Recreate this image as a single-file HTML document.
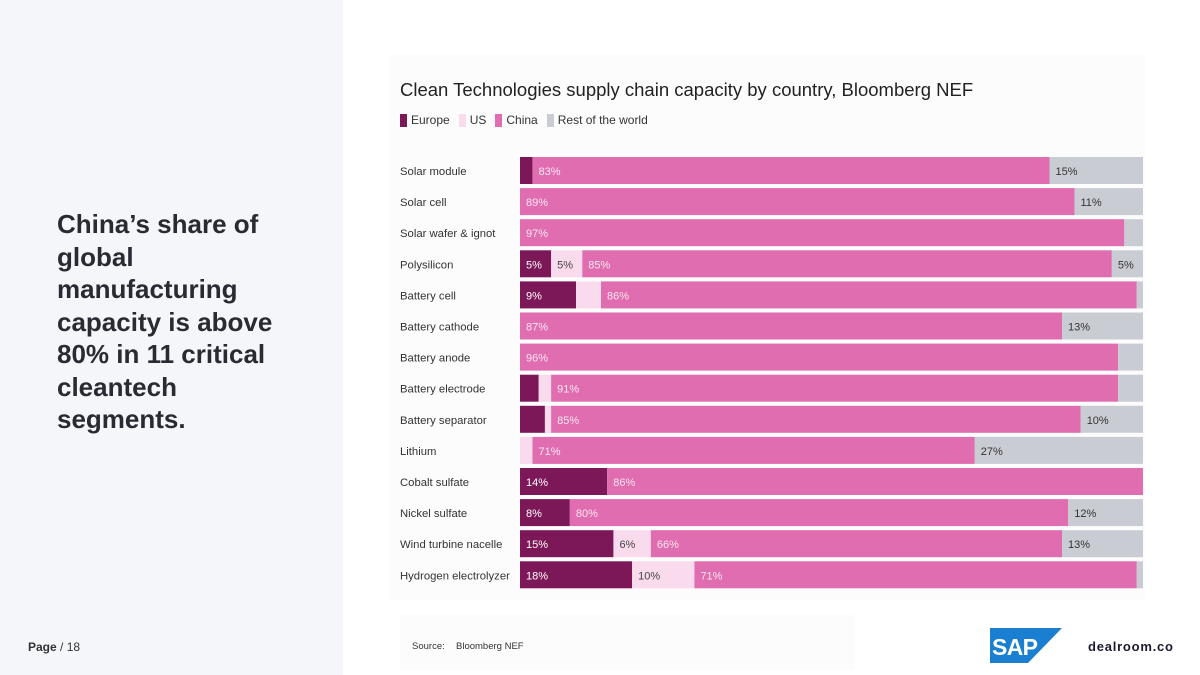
<!DOCTYPE html>
<html><head><meta charset="utf-8"><style>
body{margin:0;width:1200px;height:675px;background:#fff;font-family:"Liberation Sans",sans-serif;position:relative;overflow:hidden}
.left{position:absolute;left:0;top:0;width:343px;height:675px;background:#f5f6fa}
.head{position:absolute;left:57px;top:208px;width:250px;font-size:26px;font-weight:bold;line-height:32.5px;color:#2a2a33}
.page{position:absolute;left:28px;top:640px;font-size:12px;color:#333}
.card{position:absolute;left:390px;top:55px;width:755px;height:545px;background:#fcfcfd}
.title{position:absolute;left:400px;top:79px;font-size:18.5px;color:#222}
.legend{position:absolute;left:400px;top:113px;font-size:12px;color:#333;display:flex;gap:9px}
.legend span{display:flex;align-items:center}
.legend i{display:inline-block;width:7px;height:13px;margin-right:4px}
.src{position:absolute;left:400px;top:615px;width:455px;height:55px;background:#fcfcfd;font-size:9.5px;color:#333}
svg{position:absolute;left:0;top:0}
</style></head><body>
<div class="left"></div>
<div class="head">China’s share of global manufacturing capacity is above 80% in 11 critical cleantech segments.</div>
<div class="page"><b>Page</b> / 18</div>
<div class="card"></div>
<div class="title">Clean Technologies supply chain capacity by country, Bloomberg NEF</div>
<div class="legend">
<span><i style="background:#7c1858"></i>Europe</span>
<span><i style="background:#fadbee"></i>US</span>
<span><i style="background:#df6daf"></i>China</span>
<span><i style="background:#c9ccd3"></i>Rest of the world</span>
</div>
<div class="src"><span style="position:absolute;left:12px;top:26px">Source:</span><span style="position:absolute;left:56px;top:26px">Bloomberg NEF</span></div>
<svg width="1200" height="675" id="chart">
<g transform="translate(990,628)">
<polygon points="0,0 72,0 38,35 0,35" fill="#1a7fd0"/>
<text x="2" y="27" font-size="23" font-weight="bold" fill="#fff" font-family="Liberation Sans" textLength="46">SAP</text></g>
<text x="1088" y="651" font-size="13" font-weight="bold" fill="#1a1a33" textLength="85">dealroom.co</text>
</svg>
<script>
const categories=["Solar module","Solar cell","Solar wafer & ignot","Polysilicon","Battery cell","Battery cathode","Battery anode","Battery electrode","Battery separator","Lithium","Cobalt sulfate","Nickel sulfate","Wind turbine nacelle","Hydrogen electrolyzer"];
const europe=[2,0,0,5,9,0,0,3,4,0,14,8,15,18];
const us=[0,0,0,5,4,0,0,2,1,2,0,0,6,10];
const china=[83,89,97,85,86,87,96,91,85,71,86,80,66,71];
const rest=[15,11,3,5,1,13,4,4,10,27,0,12,13,1];
const series=[{n:"europe",v:europe,c:"#7c1858",t:"#fff"},{n:"us",v:us,c:"#fadbee",t:"#444"},{n:"china",v:china,c:"#df6daf",t:"#fde6f3"},{n:"rest",v:rest,c:"#c9ccd3",t:"#333"}];
const svg=document.getElementById('chart');const NS="http://www.w3.org/2000/svg";
const x0=520,x1=1143,y0=157,pitch=31.1,bh=27;
const xs=v=>x0+(x1-x0)*v/100;
const ys=i=>y0+i*pitch;
categories.forEach((c,i)=>{
 const t=document.createElementNS(NS,'text');
 
 
 t.setAttribute('x',400);t.setAttribute('y',ys(i)+bh/2+4.5);t.setAttribute('font-size','11.3');t.setAttribute('fill','#333');t.textContent=c;svg.appendChild(t);
 let acc=0;
 series.forEach(s=>{
  const v=s.v[i];if(v<=0)return;
  const r=document.createElementNS(NS,'rect');
  
  
  r.setAttribute('x',xs(acc));r.setAttribute('y',ys(i));r.setAttribute('width',xs(acc+v)-xs(acc));r.setAttribute('height',bh);r.setAttribute('fill',s.c);svg.appendChild(r);
  if(v>=5){const l=document.createElementNS(NS,'text');
  
  
  l.setAttribute('x',xs(acc)+6);l.setAttribute('y',ys(i)+bh/2+4.5);l.setAttribute('font-size','11');l.setAttribute('fill',s.t);l.textContent=v+'%';svg.appendChild(l);}
  acc+=v;
 });
});
</script>
</body></html>
